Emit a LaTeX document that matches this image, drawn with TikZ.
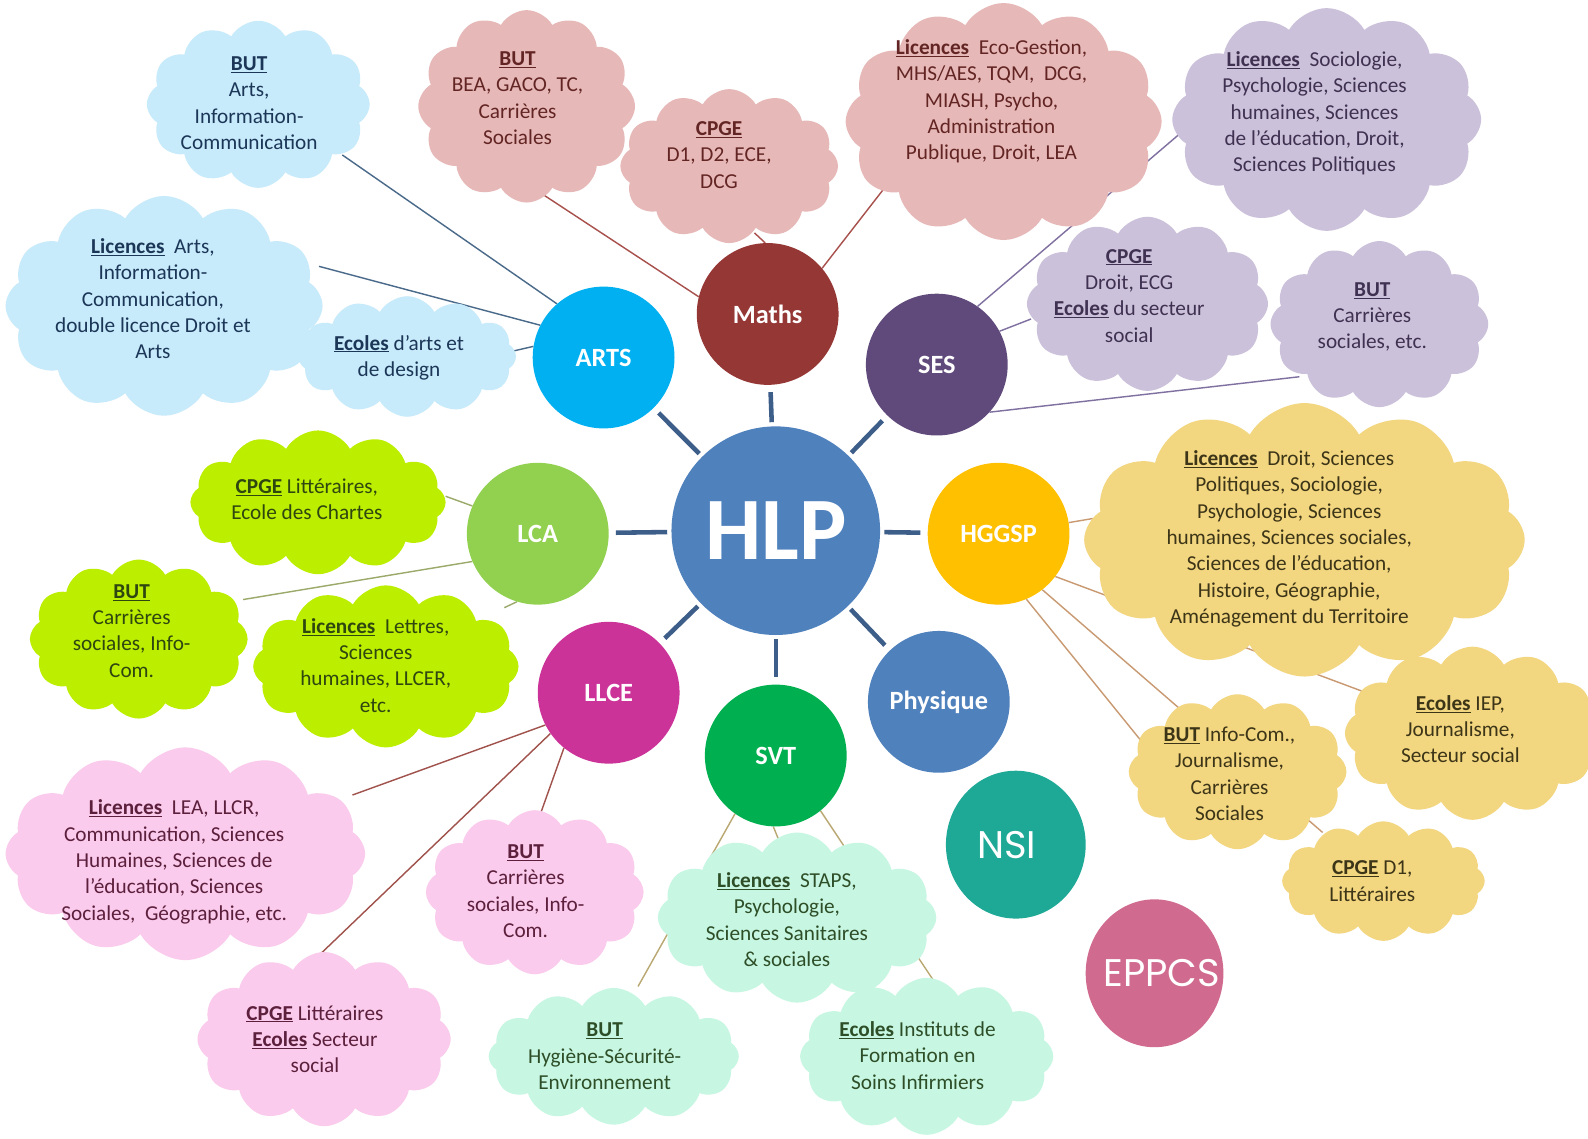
\documentclass[tikz,border=0pt]{standalone}
\usepackage{fontspec}
\setmainfont{Carlito}
\newfontfamily\poppins{Poppins}
\usetikzlibrary{shapes.symbols,shapes.geometric}
\pgfdeclarelayer{back}
\pgfsetlayers{back,main}

\definecolor{hlpC}{RGB}{79,129,189}
\definecolor{artsC}{RGB}{0,176,240}
\definecolor{mathsC}{RGB}{149,55,53}
\definecolor{sesC}{RGB}{96,74,123}
\definecolor{lcaC}{RGB}{146,208,80}
\definecolor{hggspC}{RGB}{255,192,0}
\definecolor{llceC}{RGB}{204,51,153}
\definecolor{svtC}{RGB}{0,176,80}
\definecolor{physC}{RGB}{79,129,189}
\definecolor{nsiC}{RGB}{30,168,150}
\definecolor{eppcsC}{RGB}{208,106,142}
\definecolor{spokeC}{RGB}{62,94,138}

\definecolor{artsF}{RGB}{199,235,250}
\definecolor{mathsF}{RGB}{230,185,184}
\definecolor{sesF}{RGB}{204,193,218}
\definecolor{lcaF}{RGB}{188,238,0}
\definecolor{hggspF}{RGB}{242,214,128}
\definecolor{llceF}{RGB}{250,203,236}
\definecolor{svtF}{RGB}{199,247,226}

\definecolor{artsT}{RGB}{28,54,88}
\definecolor{mathsT}{RGB}{99,37,35}
\definecolor{sesT}{RGB}{63,49,81}
\definecolor{lcaT}{RGB}{46,70,16}
\definecolor{hggspT}{RGB}{61,53,23}
\definecolor{llceT}{RGB}{92,31,60}
\definecolor{svtT}{RGB}{46,78,40}

\definecolor{artsL}{RGB}{74,106,138}
\definecolor{mathsL}{RGB}{168,80,76}
\definecolor{sesL}{RGB}{127,112,160}
\definecolor{lcaL}{RGB}{155,170,106}
\definecolor{hggspL}{RGB}{201,154,114}
\definecolor{llceL}{RGB}{160,82,76}
\definecolor{svtL}{RGB}{186,168,114}

\newcommand\hd[1]{\underline{\textbf{#1}}}

\tikzset{
  hub/.style={circle, fill=#1, minimum size=140pt, inner sep=0pt, text=white,
              font=\bfseries\fontsize{26}{30}\selectfont},
  blob/.style={ellipse, fill=#1, inner sep=0pt, text=white,
              font=\poppins\fontsize{38}{42}\selectfont},
  cl/.style={cloud, cloud puffs=12, cloud puff arc=120, cloud ignores aspect,
             inner sep=0pt, draw=none, fill=#1},
  txt/.style={align=center, font=\fontsize{21}{26}\selectfont, text=#1, inner sep=0pt},
  conn/.style={draw=#1, line width=1.4pt},
  spoke/.style={draw=spokeC, line width=4.5pt, shorten <=4pt, shorten >=7pt},
}

\begin{document}
\begin{tikzpicture}[x=1pt,y=-1pt]
\useasboundingbox (0,0) rectangle (1568,1124);
\begin{pgfonlayer}{back}
\fill[white] (0,0) rectangle (1568,1124);
\end{pgfonlayer}

% ---------- clouds ----------
% ARTS
\node[cl=artsF, minimum width=220pt, minimum height=165pt] (a1) at (255,103) {};
\node[cl=artsF, minimum width=313pt, minimum height=217pt] (a2) at (162,302) {};
\node[cl=artsF, minimum width=215pt, minimum height=119pt] (a3) at (402,352) {};
\node[txt=artsT] (a1t) at (246,102) {\hd{BUT}\\Arts,\\Information-\\Communication};
\node[txt=artsT] (a2t) at (151,295) {\hd{Licences}~ Arts,\\Information-\\Communication,\\double licence Droit et\\Arts};
\node[txt=artsT] (a3t) at (394,353) {\hd{Ecoles} d’arts et\\de design};
% Maths
\node[cl=mathsF, minimum width=214pt, minimum height=190pt] (m1) at (520,105) {};
\node[cl=mathsF, minimum width=215pt, minimum height=152pt] (m2) at (720,164) {};
\node[cl=mathsF, minimum width=312pt, minimum height=234pt] (m3) at (991,120) {};
\node[txt=mathsT] (m1t) at (511,97) {\hd{BUT}\\BEA, GACO, TC,\\Carrières\\Sociales};
\node[txt=mathsT] (m2t) at (710,153) {\hd{CPGE}\\D1, D2, ECE,\\DCG};
\node[txt=mathsT] (m3t) at (979,100) {\hd{Licences}~ Eco-Gestion,\\MHS/AES, TQM,~ DCG,\\MIASH, Psycho,\\Administration\\Publique, Droit, LEA};
% SES
\node[cl=sesF, minimum width=305pt, minimum height=220pt] (s1) at (1310,118) {};
\node[cl=sesF, minimum width=238pt, minimum height=172pt] (s2) at (1133,300) {};
\node[cl=sesF, minimum width=215pt, minimum height=164pt] (s3) at (1362,320) {};
\node[txt=sesT] (s1t) at (1298,112) {\hd{Licences}~ Sociologie,\\Psychologie, Sciences\\humaines, Sciences\\de l’éducation, Droit,\\Sciences Politiques};
\node[txt=sesT] (s2t) at (1115,292) {\hd{CPGE}\\Droit, ECG\\\hd{Ecoles} du secteur\\social};
\node[txt=sesT] (s3t) at (1355,313) {\hd{BUT}\\Carrières\\sociales, etc.};
% LCA
\node[cl=lcaF, minimum width=252pt, minimum height=142pt] (l1) at (314,496) {};
\node[cl=lcaF, minimum width=215pt, minimum height=157pt] (l2) at (137,631) {};
\node[cl=lcaF, minimum width=262pt, minimum height=160pt] (l3) at (381,658) {};
\node[txt=lcaT] (l1t) at (303,493) {\hd{CPGE} Littéraires,\\Ecole des Chartes};
\node[txt=lcaT] (l2t) at (130,623) {\hd{BUT}\\Carrières\\sociales, Info-\\Com.};
\node[txt=lcaT] (l3t) at (371,657) {\hd{Licences}~ Lettres,\\Sciences\\humaines, LLCER,\\etc.};
% HGGSP
\node[cl=hggspF, minimum width=435pt, minimum height=270pt] (h1) at (1288,533) {};
\node[cl=hggspF, minimum width=215pt, minimum height=153pt] (h2) at (1222,762) {};
\node[cl=hggspF, minimum width=252pt, minimum height=171pt] (h3) at (1454,724) {};
\node[cl=hggspF, minimum width=200pt, minimum height=118pt] (h4) at (1366,870) {};
\node[txt=hggspT] (h1t) at (1273,532) {\hd{Licences}~ Droit, Sciences\\Politiques, Sociologie,\\Psychologie, Sciences\\humaines, Sciences sociales,\\Sciences de l’éducation,\\Histoire, Géographie,\\Aménagement du Territoire};
\node[txt=hggspT] (h2t) at (1214,764) {\hd{BUT} Info-Com.,\\Journalisme,\\Carrières\\Sociales};
\node[txt=hggspT] (h3t) at (1442,720) {\hd{Ecoles} IEP,\\Journalisme,\\Secteur social};
\node[txt=hggspT] (h4t) at (1355,870) {\hd{CPGE} D1,\\Littéraires};
% LLCE
\node[cl=llceF, minimum width=355pt, minimum height=210pt] (p1) at (183,843) {};
\node[cl=llceF, minimum width=215pt, minimum height=162pt] (p2) at (528,881) {};
\node[cl=llceF, minimum width=250pt, minimum height=172pt] (p3) at (320,1026) {};
\node[txt=llceT] (p1t) at (172,851) {\hd{Licences}~ LEA, LLCR,\\Communication, Sciences\\Humaines, Sciences de\\l’éducation, Sciences\\Sociales,~ Géographie, etc.};
\node[txt=llceT] (p2t) at (519,880) {\hd{BUT}\\Carrières\\sociales, Info-\\Com.};
\node[txt=llceT] (p3t) at (311,1026) {\hd{CPGE} Littéraires\\\hd{Ecoles} Secteur\\social};
% SVT
\node[cl=svtF, minimum width=275pt, minimum height=168pt] (v1) at (787,906) {};
\node[cl=svtF, minimum width=247pt, minimum height=135pt] (v2) at (606,1043) {};
\node[cl=svtF, minimum width=250pt, minimum height=155pt] (v3) at (915,1043) {};
\node[txt=svtT] (v1t) at (777,908) {\hd{Licences}~ STAPS,\\Psychologie,\\Sciences Sanitaires\\\& sociales};
\node[txt=svtT] (v2t) at (597,1043) {\hd{BUT}\\Hygiène-Sécurité-\\Environnement};
\node[txt=svtT] (v3t) at (906,1042) {\hd{Ecoles} Instituts de\\Formation en\\Soins Infirmiers};

% ---------- circles ----------
\node[hub=hlpC, minimum size=206pt, font=\bfseries\fontsize{88}{90}\selectfont] (hlp) at (766,524) {HLP};
\node[hub=artsC] (arts) at (596,353) {ARTS};
\node[hub=mathsC] (maths) at (758,310) {Maths};
\node[hub=sesC] (ses) at (925,360) {SES};
\node[hub=lcaC] (lca) at (531,527) {LCA};
\node[hub=hggspC] (hggsp) at (986,527) {HGGSP};
\node[hub=llceC] (llce) at (601,684) {LLCE};
\node[hub=svtC] (svt) at (766,746) {SVT};
\node[hub=physC] (phys) at (927,693) {Physique};
\node[blob=nsiC, minimum width=138pt, minimum height=146pt] (nsi) at (1003,834) {};
\node[text=white, font=\poppins\fontsize{38}{42}\selectfont, inner sep=0pt] (nsit) at (994,834) {NSI};
\node[blob=eppcsC, minimum width=136pt, minimum height=146pt] (eppcs) at (1140,961) {};
\node[text=white, font=\poppins\fontsize{38}{42}\selectfont, inner sep=0pt] (eppcst) at (1147,961) {EPPCS};

% ---------- spokes ----------
\foreach \n in {arts,maths,ses,lca,hggsp,llce,svt,phys}
  \draw[spoke] (hlp) -- (\n);

% ---------- connector ends ----------
\coordinate (a1e) at (338,153);
\coordinate (a2e) at (315,263);
\coordinate (a3e) at (505,347);
\coordinate (m1e) at (533,190);
\coordinate (m2e) at (745,230);
\coordinate (m3e) at (880,177);
\coordinate (s1e) at (1165,132);
\coordinate (s2e) at (1018,315);
\coordinate (s3e) at (1283,372);
\coordinate (l1e) at (440,490);
\coordinate (l2e) at (240,592);
\coordinate (l3e) at (498,600);
\coordinate (h1e) at (1079,512);
\coordinate (h2e) at (1132,738);
\coordinate (h3e) at (1349,684);
\coordinate (h4e) at (1306,822);
\coordinate (p1e) at (348,785);
\coordinate (p2e) at (531,811);
\coordinate (p3e) at (308,950);
\coordinate (v1e) at (770,832);
\coordinate (v2e) at (630,974);
\coordinate (v3e) at (923,970);

\begin{pgfonlayer}{back}
\draw[conn=artsL] (arts.131) -- (a1e);
\draw[conn=artsL] (arts.153) -- (a2e);
\draw[conn=artsL] (arts.171) -- (a3e);
\draw[conn=mathsL] (maths.166) -- (m1e);
\draw[conn=mathsL] (maths.92) -- (m2e);
\draw[conn=mathsL] (maths.40) -- (m3e);
\draw[conn=sesL] (ses.55) -- (s1e);
\draw[conn=sesL] (ses.28) -- (s2e);
\draw[conn=sesL] (ses.-42) -- (s3e);
\draw[conn=lcaL] (lca.157) -- (l1e);
\draw[conn=lcaL] (lca.203) -- (l2e);
\draw[conn=lcaL] (lca.253) -- (l3e);
\draw[conn=hggspL] (hggsp.9) -- (h1e);
\draw[conn=hggspL] (hggsp.-67) -- (h2e);
\draw[conn=hggspL] (hggsp.-37) -- (h3e);
\draw[conn=hggspL] (hggsp.-52) -- (h4e);
\draw[conn=llceL] (llce.207) -- (p1e);
\draw[conn=llceL] (llce.231) -- (p2e);
\draw[conn=llceL] (llce.215) -- (p3e);
\draw[conn=svtL] (svt.268) -- (v1e);
\draw[conn=svtL] (svt.235) -- (v2e);
\draw[conn=svtL] (svt.-51) -- (v3e);
\end{pgfonlayer}
\end{tikzpicture}
\end{document}
